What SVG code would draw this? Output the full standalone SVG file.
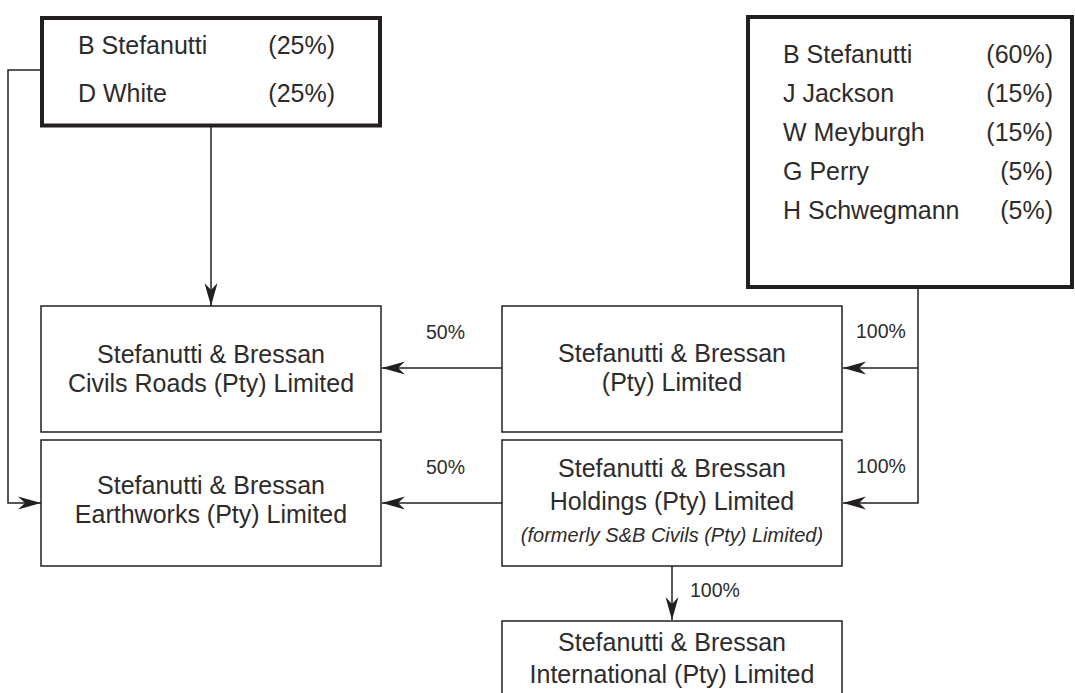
<svg xmlns="http://www.w3.org/2000/svg" width="1075" height="693" viewBox="0 0 1075 693">
  <style>
    .bg { fill: #ffffff; }
    .owner { fill: #ffffff; stroke: #231f20; stroke-width: 4; }
    .box { fill: #ffffff; stroke: #231f20; stroke-width: 1.5; }
    .t { font-family: "Liberation Sans", Arial, sans-serif; font-size: 25px; fill: #2e2b2c; }
    .c { text-anchor: middle; }
    .e { text-anchor: end; }
    .it { font-family: "Liberation Sans", Arial, sans-serif; font-size: 20px; font-style: italic; fill: #2e2b2c; text-anchor: middle; }
    .p { font-family: "Liberation Sans", Arial, sans-serif; font-size: 19.5px; fill: #2e2b2c; }
    .ln { fill: none; stroke: #231f20; stroke-width: 1.5; }
  </style>
  <defs>
    <marker id="ah" markerUnits="userSpaceOnUse" markerWidth="24" markerHeight="14" refX="23" refY="7" orient="auto">
      <path d="M0,0.5 L23,7 L0,13.5 L7,7 Z" fill="#231f20"/>
    </marker>
  </defs>
  <rect class="bg" x="0" y="0" width="1075" height="693"/>

  <g id="connectors">
    <path class="ln" d="M211,127 L211,306" marker-end="url(#ah)"/>
    <path class="ln" d="M42,70 L8,70 L8,503 L41,503" marker-end="url(#ah)"/>
    <path class="ln" d="M502,368 L382,368" marker-end="url(#ah)"/>
    <path class="ln" d="M502,503 L382,503" marker-end="url(#ah)"/>
    <path class="ln" d="M918,289 L918,503 L843,503" marker-end="url(#ah)"/>
    <path class="ln" d="M918,368 L843,368" marker-end="url(#ah)"/>
    <path class="ln" d="M672,566 L672,620" marker-end="url(#ah)"/>
    <text class="p" x="426" y="339">50%</text>
    <text class="p" x="426" y="474">50%</text>
    <text class="p" x="856" y="338">100%</text>
    <text class="p" x="856" y="473">100%</text>
    <text class="p" x="690" y="597">100%</text>
  </g>

  <g id="owners-left">
    <rect class="owner" x="42" y="18" width="338" height="107.5"/>
    <text class="t" x="78" y="54">B Stefanutti</text>
    <text class="t e" x="335" y="54">(25%)</text>
    <text class="t" x="78" y="102">D White</text>
    <text class="t e" x="335" y="102">(25%)</text>
  </g>

  <g id="owners-right">
    <rect class="owner" x="748" y="17" width="324" height="270"/>
    <text class="t" x="783" y="63">B Stefanutti</text>
    <text class="t e" x="1053" y="63">(60%)</text>
    <text class="t" x="783" y="102">J Jackson</text>
    <text class="t e" x="1053" y="102">(15%)</text>
    <text class="t" x="783" y="141">W Meyburgh</text>
    <text class="t e" x="1053" y="141">(15%)</text>
    <text class="t" x="783" y="180">G Perry</text>
    <text class="t e" x="1053" y="180">(5%)</text>
    <text class="t" x="783" y="219">H Schwegmann</text>
    <text class="t e" x="1053" y="219">(5%)</text>
  </g>

  <g id="civils-roads">
    <rect class="box" x="41" y="306" width="340" height="126"/>
    <text class="t c" x="211" y="363">Stefanutti &amp; Bressan</text>
    <text class="t c" x="211" y="392">Civils Roads (Pty) Limited</text>
  </g>

  <g id="earthworks">
    <rect class="box" x="41" y="440" width="340" height="126"/>
    <text class="t c" x="211" y="494">Stefanutti &amp; Bressan</text>
    <text class="t c" x="211" y="523">Earthworks (Pty) Limited</text>
  </g>

  <g id="sb-pty">
    <rect class="box" x="502" y="306" width="340" height="126"/>
    <text class="t c" x="672" y="362">Stefanutti &amp; Bressan</text>
    <text class="t c" x="672" y="391">(Pty) Limited</text>
  </g>

  <g id="sb-holdings">
    <rect class="box" x="502" y="440" width="340" height="126"/>
    <text class="t c" x="672" y="477">Stefanutti &amp; Bressan</text>
    <text class="t c" x="672" y="510">Holdings (Pty) Limited</text>
    <text class="it" x="672" y="542">(formerly S&amp;B Civils (Pty) Limited)</text>
  </g>

  <g id="sb-international">
    <rect class="box" x="502" y="621" width="340" height="90"/>
    <text class="t c" x="672" y="651">Stefanutti &amp; Bressan</text>
    <text class="t c" x="672" y="683">International (Pty) Limited</text>
  </g>
</svg>
